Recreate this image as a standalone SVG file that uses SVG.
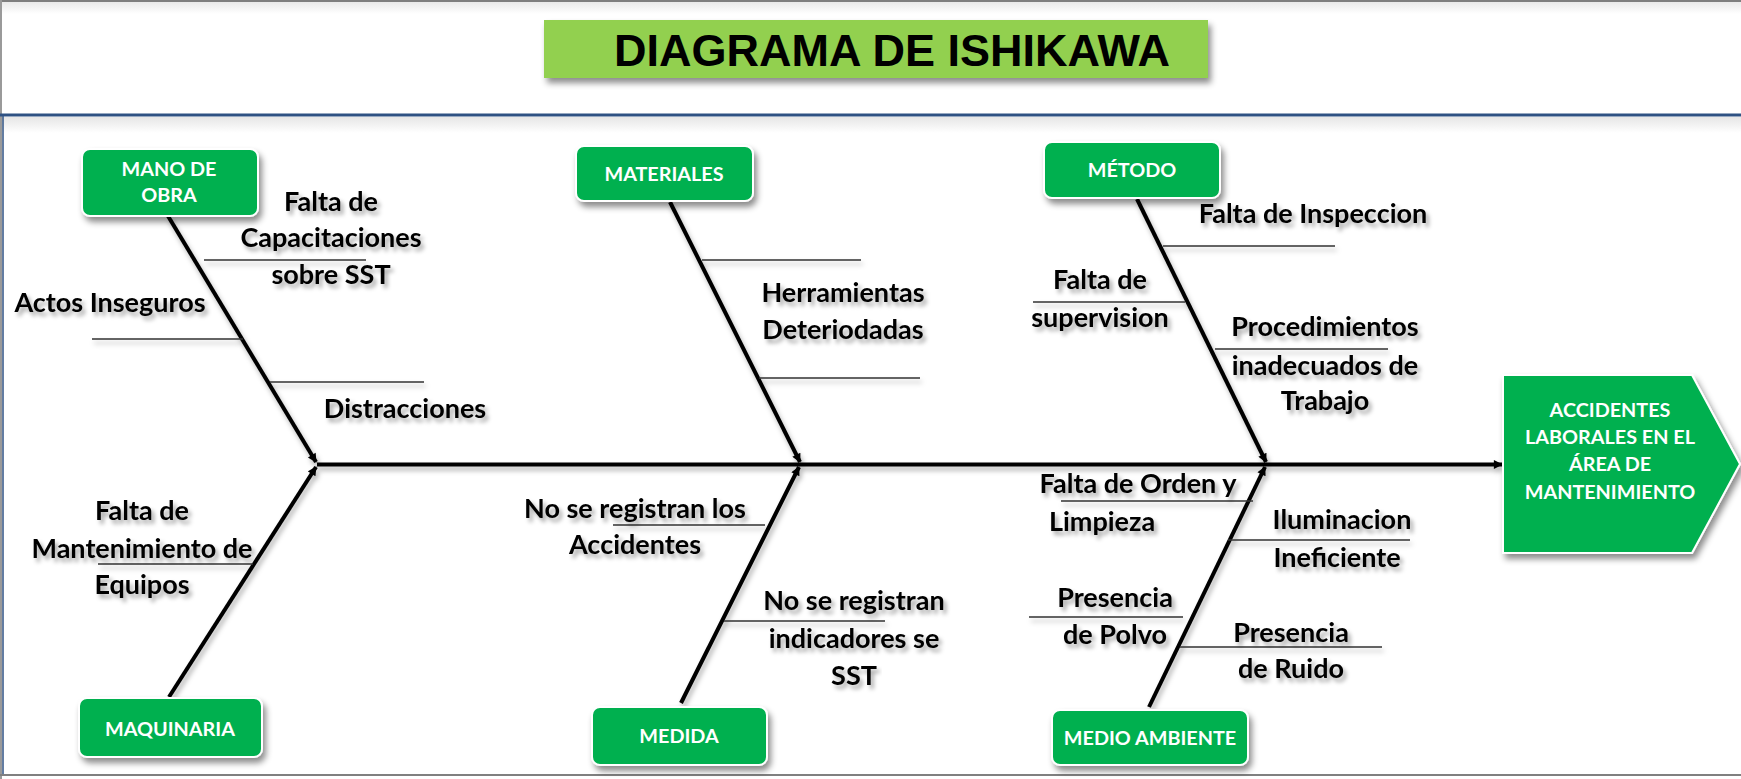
<svg xmlns="http://www.w3.org/2000/svg" width="1741" height="779" viewBox="0 0 1741 779">
  <defs>
    <linearGradient id="topFade" x1="0" y1="0" x2="0" y2="1">
      <stop offset="0" stop-color="#e6e6e6"/>
      <stop offset="1" stop-color="#ffffff"/>
    </linearGradient>
    <filter id="boxShadow" x="-20%" y="-30%" width="140%" height="170%">
      <feDropShadow dx="3" dy="5" stdDeviation="3" flood-color="#000" flood-opacity="0.45"/>
    </filter>
    <filter id="textShadow" x="-10%" y="-30%" width="120%" height="170%">
      <feDropShadow dx="3" dy="4" stdDeviation="2.2" flood-color="#000" flood-opacity="0.35"/>
    </filter>
    <filter id="lineShadow" filterUnits="userSpaceOnUse" x="0" y="0" width="1741" height="779">
      <feDropShadow dx="2" dy="4" stdDeviation="2.5" flood-color="#000" flood-opacity="0.3"/>
    </filter>
    <marker id="arrow" viewBox="0 0 10 10" refX="9" refY="5" markerWidth="11" markerHeight="9" markerUnits="userSpaceOnUse" orient="auto">
      <path d="M0,0 L10,5 L0,10 z" fill="#000"/>
    </marker>
    <style>
      .box { fill: #00B050; stroke: #ffffff; stroke-width: 2; filter: url(#boxShadow); }
      .boxText { font-family: Lato, "Open Sans", sans-serif; font-weight: bold; font-size: 19.8px; fill: #ffffff; text-anchor: middle; }
      .label { font-family: Lato, "Open Sans", sans-serif; font-weight: bold; font-size: 27px; fill: #000; text-anchor: middle; filter: url(#textShadow); }
      .bone { stroke: #000; stroke-width: 4; fill: none; marker-end: url(#arrow); }
      .sub { stroke: #333; stroke-width: 1.4; fill: none; }
    </style>
  </defs>

  <!-- background and frame -->
  <rect x="0" y="0" width="1741" height="779" fill="#ffffff"/>
  <rect x="0" y="0" width="1741" height="14" fill="url(#topFade)"/>
  <rect x="0" y="117" width="1741" height="16" fill="url(#topFade)"/>
  <line x1="0" y1="1" x2="1741" y2="1" stroke="#7f7f7f" stroke-width="2"/>
  <line x1="1" y1="0" x2="1" y2="779" stroke="#9a9a9a" stroke-width="2"/>
  <line x1="0" y1="115" x2="1741" y2="115" stroke="#2F5283" stroke-width="3"/>
  <line x1="3" y1="115" x2="3" y2="775" stroke="#2F5283" stroke-width="1.5"/>
  <line x1="0" y1="775" x2="1741" y2="775" stroke="#808080" stroke-width="2"/>

  <!-- title -->
  <g id="title">
    <rect x="544" y="20" width="664" height="58" fill="#92D050" filter="url(#boxShadow)"/>
    <text x="892" y="66" font-family="'Liberation Sans', Arial, sans-serif" font-weight="bold" font-size="45" fill="#000" text-anchor="middle">DIAGRAMA DE ISHIKAWA</text>
  </g>

  <!-- connectors -->
  <g id="connectors" filter="url(#lineShadow)">
    <line class="bone" x1="317" y1="464.5" x2="1502" y2="464.5"/>
    <line class="bone" x1="168" y1="216" x2="316" y2="462"/>
    <line class="bone" x1="169" y1="697" x2="316" y2="467"/>
    <line class="bone" x1="670" y1="202" x2="800" y2="462"/>
    <line class="bone" x1="681" y1="703" x2="799" y2="467"/>
    <line class="bone" x1="1137" y1="199" x2="1266" y2="462"/>
    <line class="bone" x1="1149" y1="707" x2="1265" y2="467"/>
    <!-- sub-cause lines -->
    <line class="sub" x1="204" y1="260" x2="366" y2="260"/>
    <line class="sub" x1="92" y1="339" x2="243" y2="339"/>
    <line class="sub" x1="270" y1="382" x2="424" y2="382"/>
    <line class="sub" x1="98" y1="564" x2="253" y2="564"/>
    <line class="sub" x1="702" y1="260" x2="861" y2="260"/>
    <line class="sub" x1="759" y1="378" x2="920" y2="378"/>
    <line class="sub" x1="613" y1="525" x2="765" y2="525"/>
    <line class="sub" x1="724" y1="621" x2="885" y2="621"/>
    <line class="sub" x1="1163" y1="246" x2="1335" y2="246"/>
    <line class="sub" x1="1033" y1="302" x2="1185" y2="302"/>
    <line class="sub" x1="1215" y1="349" x2="1388" y2="349"/>
    <line class="sub" x1="1061" y1="501" x2="1253" y2="501"/>
    <line class="sub" x1="1228" y1="540" x2="1410" y2="540"/>
    <line class="sub" x1="1029" y1="617" x2="1183" y2="617"/>
    <line class="sub" x1="1180" y1="647" x2="1382" y2="647"/>
  </g>

  <!-- category nodes -->
  <g id="mano-de-obra">
    <rect class="box" x="82" y="149" width="176" height="67" rx="8"/>
    <text class="boxText" x="169" y="176">MANO DE</text>
    <text class="boxText" x="169" y="202">OBRA</text>
  </g>
  <g id="materiales">
    <rect class="box" x="576" y="146" width="177" height="55" rx="8"/>
    <text class="boxText" x="664" y="181">MATERIALES</text>
  </g>
  <g id="metodo">
    <rect class="box" x="1044" y="142" width="176" height="56" rx="8"/>
    <text class="boxText" x="1132" y="177">MÉTODO</text>
  </g>
  <g id="maquinaria">
    <rect class="box" x="79" y="698" width="183" height="59" rx="8"/>
    <text class="boxText" x="170" y="736">MAQUINARIA</text>
  </g>
  <g id="medida">
    <rect class="box" x="592" y="707" width="175" height="58" rx="8"/>
    <text class="boxText" x="679" y="743">MEDIDA</text>
  </g>
  <g id="medio-ambiente">
    <rect class="box" x="1052" y="710" width="196" height="55" rx="8"/>
    <text class="boxText" x="1150" y="745">MEDIO AMBIENTE</text>
  </g>

  <!-- effect -->
  <g id="efecto">
    <polygon class="box" points="1503,375 1692,375 1740,464 1692,553 1503,553"/>
    <text class="boxText" x="1610" y="417">ACCIDENTES</text>
    <text class="boxText" x="1610" y="444">LABORALES EN EL</text>
    <text class="boxText" x="1610" y="471">ÁREA DE</text>
    <text class="boxText" x="1610" y="499">MANTENIMIENTO</text>
  </g>

  <!-- cause labels -->
  <g id="causa-capacitaciones">
    <text class="label" x="331" y="211">Falta de</text>
    <text class="label" x="331" y="247">Capacitaciones</text>
    <text class="label" x="331" y="284">sobre SST</text>
  </g>
  <g id="causa-actos">
    <text class="label" x="110" y="312">Actos Inseguros</text>
  </g>
  <g id="causa-distracciones">
    <text class="label" x="405" y="418">Distracciones</text>
  </g>
  <g id="causa-mantenimiento">
    <text class="label" x="142" y="520">Falta de</text>
    <text class="label" x="142" y="558">Mantenimiento de</text>
    <text class="label" x="142" y="594">Equipos</text>
  </g>
  <g id="causa-herramientas">
    <text class="label" x="843" y="302">Herramientas</text>
    <text class="label" x="843" y="339">Deteriodadas</text>
  </g>
  <g id="causa-accidentes">
    <text class="label" x="635" y="518">No se registran los</text>
    <text class="label" x="635" y="554">Accidentes</text>
  </g>
  <g id="causa-indicadores">
    <text class="label" x="854" y="610">No se registran</text>
    <text class="label" x="854" y="648">indicadores se</text>
    <text class="label" x="854" y="685">SST</text>
  </g>
  <g id="causa-inspeccion">
    <text class="label" x="1313" y="223">Falta de Inspeccion</text>
  </g>
  <g id="causa-supervision">
    <text class="label" x="1100" y="289">Falta de</text>
    <text class="label" x="1100" y="327">supervision</text>
  </g>
  <g id="causa-procedimientos">
    <text class="label" x="1325" y="336">Procedimientos</text>
    <text class="label" x="1325" y="375">inadecuados de</text>
    <text class="label" x="1325" y="410">Trabajo</text>
  </g>
  <g id="causa-orden">
    <text class="label" x="1138" y="493">Falta de Orden y</text>
    <text class="label" x="1102" y="531">Limpieza</text>
  </g>
  <g id="causa-iluminacion">
    <text class="label" x="1342" y="529">Iluminacion</text>
    <text class="label" x="1337" y="567">Ineficiente</text>
  </g>
  <g id="causa-polvo">
    <text class="label" x="1115" y="607">Presencia</text>
    <text class="label" x="1115" y="644">de Polvo</text>
  </g>
  <g id="causa-ruido">
    <text class="label" x="1291" y="642">Presencia</text>
    <text class="label" x="1291" y="678">de Ruido</text>
  </g>
</svg>
